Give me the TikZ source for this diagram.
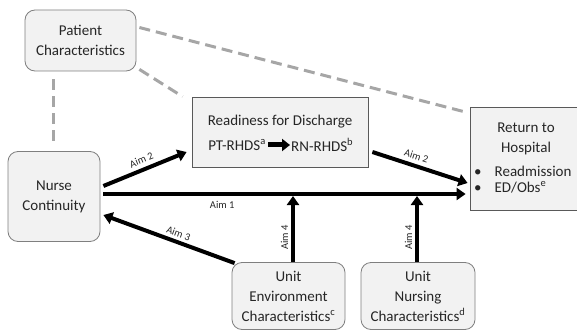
\documentclass[tikz,border=0pt]{standalone}
\usepackage{fontspec}
\setmainfont{Carlito}
\usetikzlibrary{arrows.meta,calc}
\definecolor{boxfill}{HTML}{F2F2F2}
\definecolor{boxline}{HTML}{7F7F7F}
\definecolor{rboxline}{HTML}{595959}
\definecolor{dashcol}{HTML}{A6A6A6}
\definecolor{txt}{HTML}{262626}
\begin{document}
\begin{tikzpicture}[x=1pt,y=-1pt,
  txtfont/.style={font=\fontsize{15}{20}\selectfont, text=txt},
  roundbox/.style={draw=boxline, fill=boxfill, line width=0.8pt, rounded corners=10pt, inner sep=0pt, align=center, txtfont},
  squarebox/.style={draw=rboxline, fill=boxfill, line width=0.8pt, inner sep=0pt, align=center, txtfont},
  plain/.style={inner sep=0pt, txtfont},
  dashlink/.style={draw=dashcol, line width=3pt, dash pattern=on 11pt off 6pt},
  aimarrow/.style={draw=black, line width=4pt, -{Triangle[length=9pt,width=12pt]}},
  aimlabel/.style={font=\fontsize{10.5}{12}\selectfont, text=txt, inner sep=2pt}
]
\useasboundingbox (0,0) rectangle (577,331);

% boxes
\node[roundbox, minimum width=111pt, minimum height=61pt] (patient) at (80.5,40.5) {Patient\\Characteristics};
\node[roundbox, minimum width=92pt, minimum height=90pt] (nurse) at (54,196.5) {Nurse\\Continuity};
\node[roundbox, minimum width=113pt, minimum height=67pt] (env) at (288.5,296) {Unit\\Environment\\Characteristics\textsuperscript{c}};
\node[roundbox, minimum width=114pt, minimum height=67pt] (nurs) at (418,296) {Unit\\Nursing\\Characteristics\textsuperscript{d}};
\node[squarebox, minimum width=176pt, minimum height=70pt] (ready) at (280,132) {};
\node[squarebox, minimum width=112pt, minimum height=103pt] (ret) at (526,158.5) {};

% texts in readiness box
\node[plain] (readytitle) at (280,122) {Readiness for Discharge};
\node[plain, anchor=east] (pt) at (266,145) {PT-RHDS\textsuperscript{a}};
\node[plain, anchor=west] (rn) at (291,145) {RN-RHDS\textsuperscript{b}};
\draw[line width=5pt, -{Triangle[length=8pt,width=12pt]}, shorten <=2pt, shorten >=1pt] (pt.east) -- (rn.west);

% texts in return box
\node[plain, align=center] (rettitle) at (526,139) {Return to\\Hospital};
\node[plain, anchor=west, font=\fontsize{15}{16}\selectfont] (retlist) at (474,181)
  {\begin{tabular}{@{}l@{\hspace{13pt}}l@{}}\textbullet & Readmission\\ \textbullet & ED/Obs\textsuperscript{e}\end{tabular}};

% dashed links
\draw[dashlink] ([shift={(-27.5pt,-8pt)}]patient.south) -- ([shift={(-1pt,8pt)}]nurse.north);
\draw[dashlink] ([shift={(3pt,2pt)}]patient.south east) -- ([shift={(-9pt,0pt)}]ready.north west);
\draw[dashlink] ([shift={(3pt,13pt)}]patient.east) -- ([shift={(-2pt,-6pt)}]ret.north west);

% arrows
\draw[aimarrow] ([yshift=2.5pt]nurse.east) coordinate (a1s) -- (a1s -| ret.west)
  [shorten <=3pt, shorten >=4pt] node[aimlabel, pos=0.33, below=3pt] {Aim 1};
\draw[aimarrow] ([shift={(3pt,10.5pt)}]nurse.east) -- ([shift={(-5pt,-20pt)}]ready.west)
  node[aimlabel, midway, sloped, above=2pt] {Aim 2};
\draw[aimarrow] ([shift={(4pt,-20pt)}]ready.east) -- ([shift={(-2pt,-24.5pt)}]ret.west)
  node[aimlabel, pos=0.43, sloped, above=2pt] {Aim 2};
\draw[aimarrow] ([shift={(3pt,-1pt)}]env.north west) -- ([shift={(3pt,-18.5pt)}]nurse.east)
  node[aimlabel, pos=0.45, sloped, above=1pt] {Aim 3};
\draw[aimarrow, shorten >=2pt] ([xshift=4.5pt]env.north) coordinate (a4s) -- (a4s |- a1s)
  node[aimlabel, pos=0.36, sloped, above=1pt] {Aim 4};
\draw[aimarrow, shorten >=2pt] ([xshift=-1pt]nurs.north) coordinate (a5s) -- (a5s |- a1s)
  node[aimlabel, pos=0.36, sloped, above=1pt] {Aim 4};
\end{tikzpicture}
\end{document}
